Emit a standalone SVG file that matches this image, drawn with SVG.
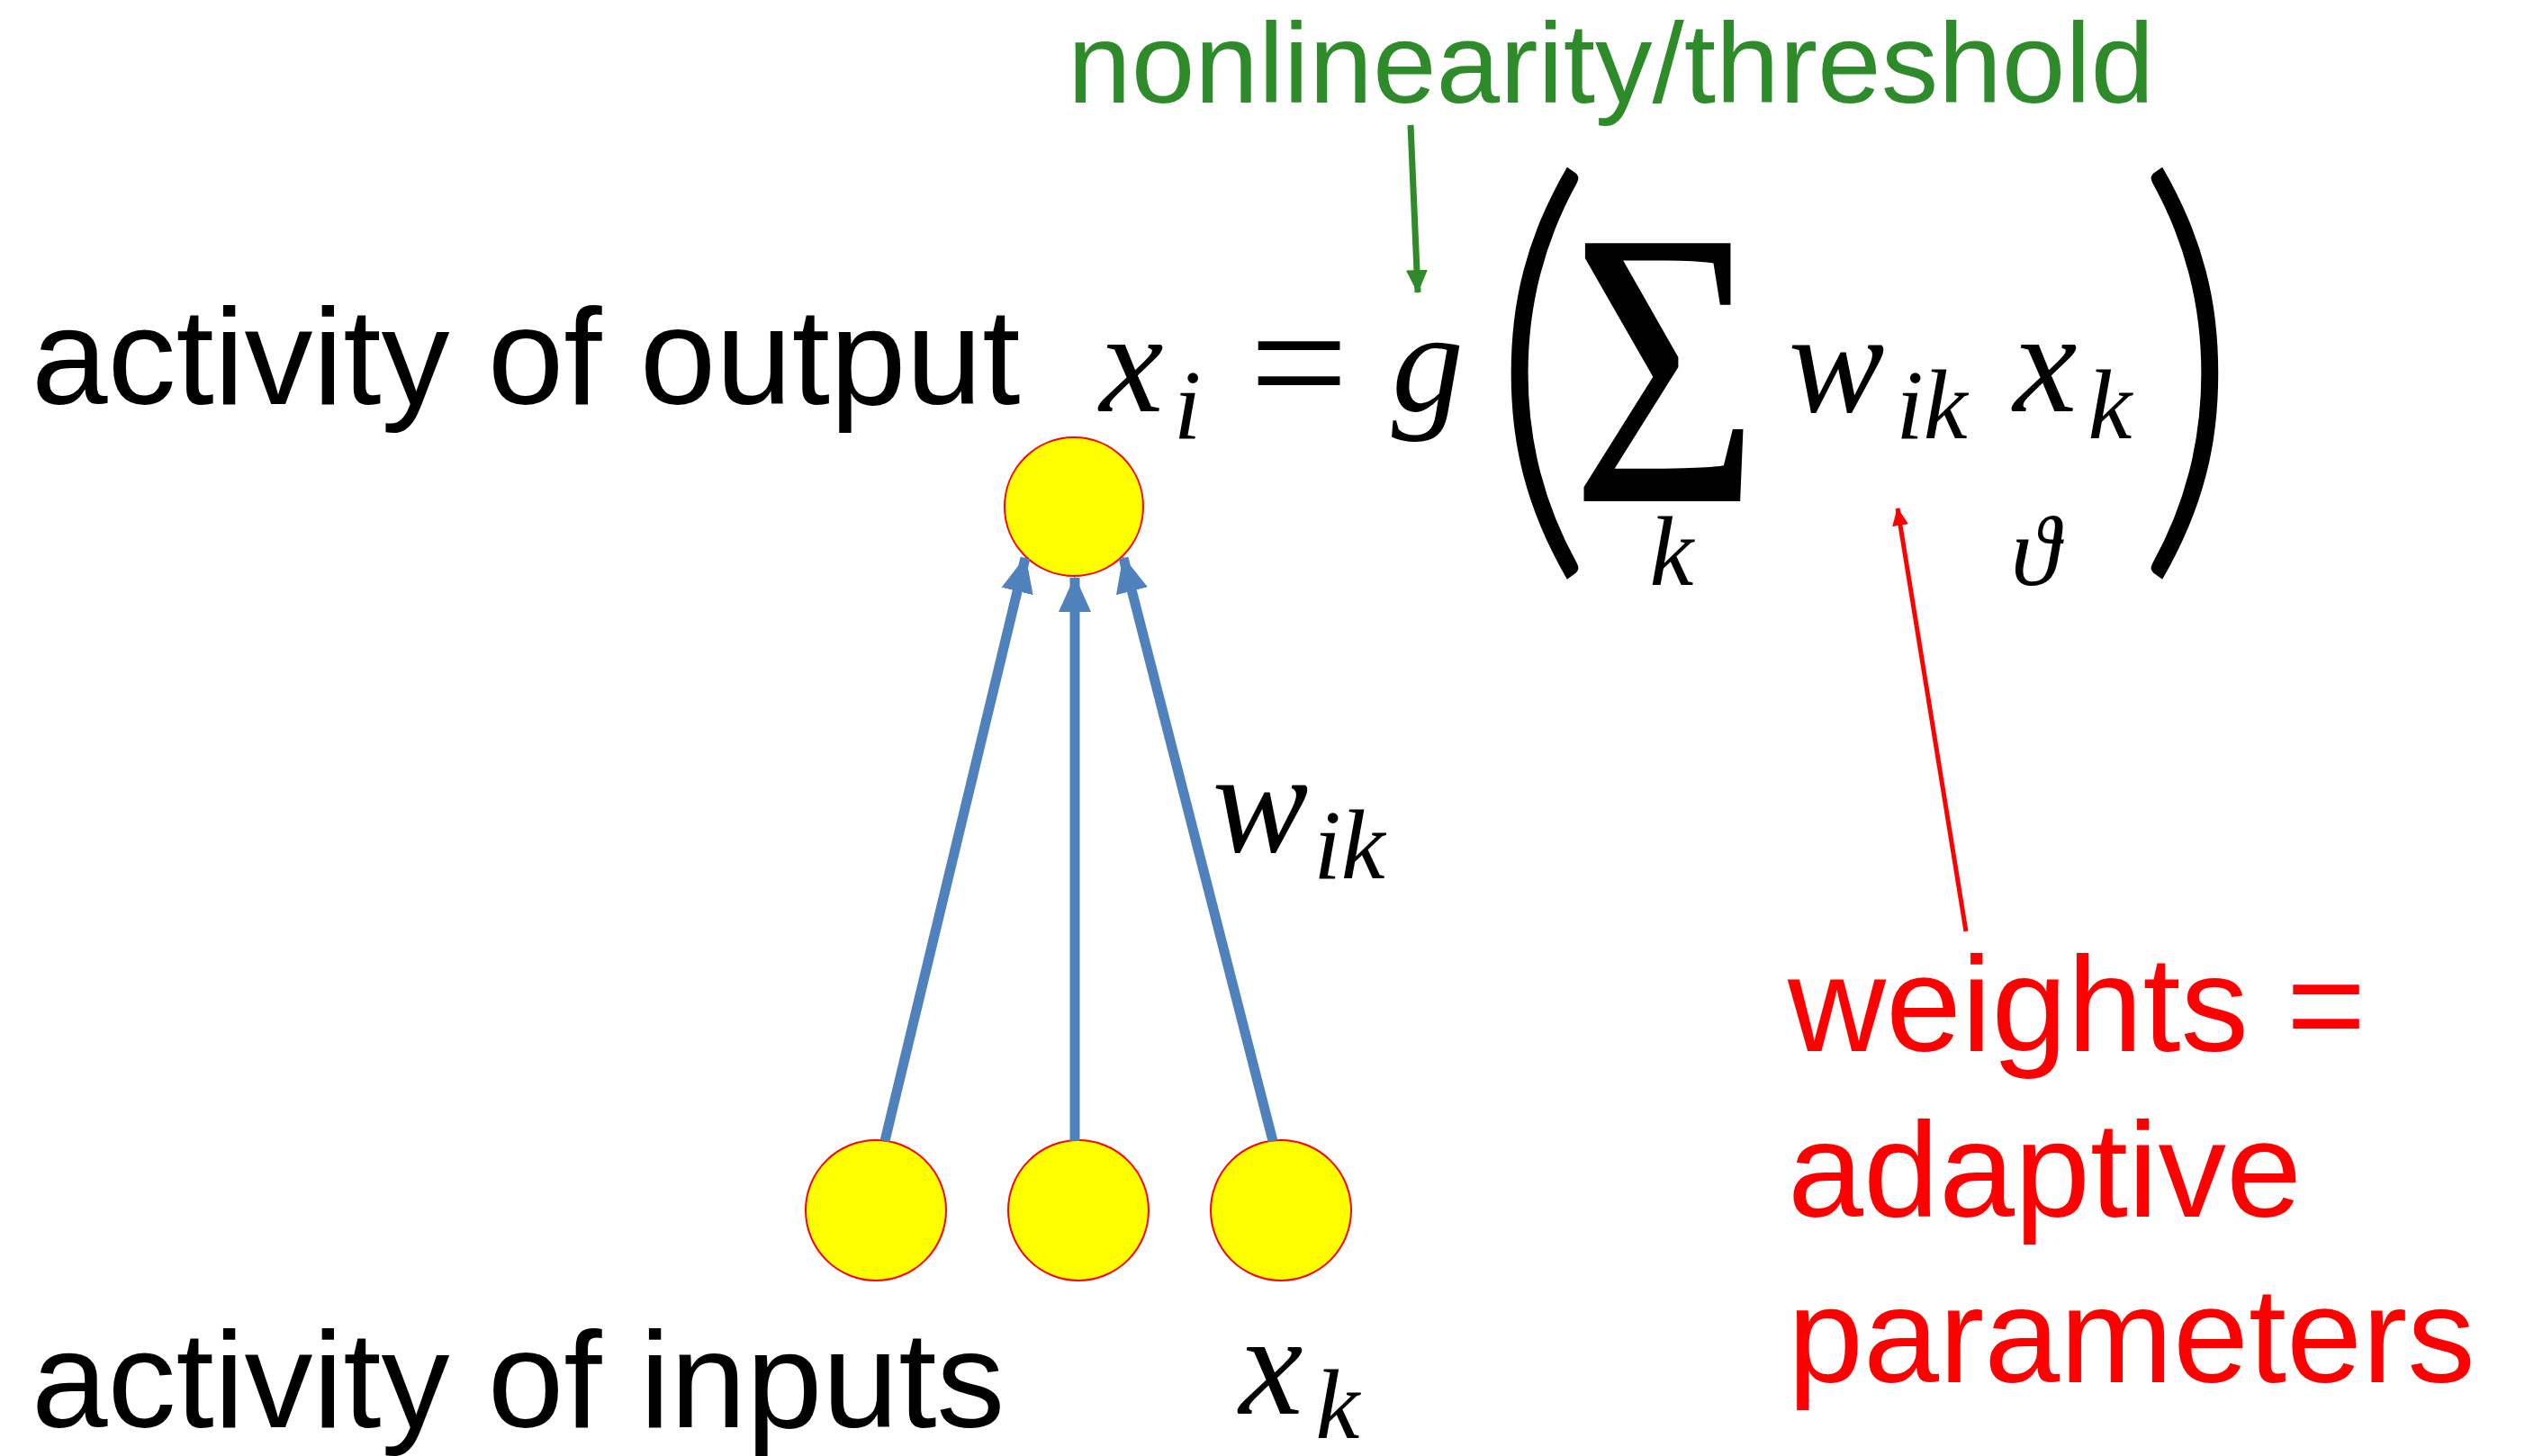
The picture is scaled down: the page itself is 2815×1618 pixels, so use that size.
<svg xmlns="http://www.w3.org/2000/svg" width="2815" height="1618" viewBox="0 0 2815 1618">
<style>
.lbl{font-family:"Liberation Sans",Arial,sans-serif;font-size:152px;fill:#000}
.red{font-family:"Liberation Sans",Arial,sans-serif;font-size:151px;fill:#FF0000}
.grn{font-family:"Liberation Sans",Arial,sans-serif;font-size:127px;fill:#2E8B2A}
.m{font-family:"Liberation Serif","DejaVu Serif",serif;font-style:italic;font-size:160px;fill:#000;text-anchor:middle}
.s{font-family:"Liberation Serif","DejaVu Serif",serif;font-style:italic;font-size:110px;fill:#000;text-anchor:middle}
.u{font-family:"Liberation Serif","DejaVu Serif",serif;fill:#000;text-anchor:middle}
.p{font-family:Lato,"Liberation Serif",serif;font-weight:300;fill:#000;text-anchor:middle}
.node{fill:#FFFF00;stroke:#FF0000;stroke-width:2}
.edge{stroke:#4F81BD;stroke-width:11;fill:none}
</style>
<defs>
<marker id="ab" markerUnits="userSpaceOnUse" markerWidth="40" markerHeight="40" viewBox="0 0 40 40" refX="38" refY="20" orient="auto">
<path d="M0,2 L40,20 L0,38 Z" fill="#4F81BD"/>
</marker>
<marker id="ag" markerUnits="userSpaceOnUse" markerWidth="26" markerHeight="26" viewBox="0 0 26 26" refX="25" refY="13" orient="auto">
<path d="M0,1 L26,13 L0,25 Z" fill="#2E8B2A"/>
</marker>
<marker id="ar" markerUnits="userSpaceOnUse" markerWidth="20" markerHeight="20" viewBox="0 0 20 20" refX="19" refY="10" orient="auto">
<path d="M0,1 L20,10 L0,19 Z" fill="#FF0000"/>
</marker>
</defs>

<text class="lbl" x="35" y="449">activity of output</text>
<text class="lbl" x="35" y="1586">activity of inputs</text>
<text class="grn" x="1186" y="114">nonlinearity/threshold</text>
<text class="red" x="1986" y="1168">weights =</text>
<text class="red" x="1986" y="1352">adaptive</text>
<text class="red" x="1986" y="1536">parameters</text>

<g id="formula">
<text class="m" x="1257" y="457">x</text>
<text class="s" x="1319" y="487">i</text>
<text class="u" x="1443" y="468" font-size="195">=</text>
<text class="m" x="1586" y="457">g</text>
<text class="p" x="0" y="0" font-size="450" transform="translate(1712,576) scale(1.0,1.137)">(</text>
<text class="u" x="0" y="0" font-size="438" transform="translate(1850,557) scale(0.82,1)">Σ</text>
<text class="s" x="1857" y="650">k</text>
<text class="m" x="2040" y="457">w</text>
<text class="s" x="2146" y="487">ik</text>
<text class="m" x="2272" y="457">x</text>
<text class="s" x="2344" y="487">k</text>
<text class="s" x="2261" y="650" font-size="82">ϑ</text>
<text class="p" x="0" y="0" font-size="450" transform="translate(2431,576) scale(1.0,1.137)">)</text>
</g>

<g id="n_out"><circle class="node" cx="1193" cy="563" r="77"/></g>
<g id="n_in1"><circle class="node" cx="973" cy="1345" r="78"/></g>
<g id="n_in2"><circle class="node" cx="1198" cy="1345" r="78"/></g>
<g id="n_in3"><circle class="node" cx="1423" cy="1345" r="78"/></g>

<g id="connectors">
<line class="edge" x1="983" y1="1268" x2="1139" y2="620" marker-end="url(#ab)"/>
<line class="edge" x1="1194" y1="1268" x2="1194" y2="642" marker-end="url(#ab)"/>
<line class="edge" x1="1414" y1="1268" x2="1248" y2="620" marker-end="url(#ab)"/>
<line x1="1567" y1="139" x2="1575" y2="325" stroke="#2E8B2A" stroke-width="7" marker-end="url(#ag)"/>
<line x1="2184" y1="1035" x2="2108" y2="565" stroke="#FF0000" stroke-width="5" marker-end="url(#ar)"/>
</g>

<g id="labels">
<text class="m" x="1400" y="946" font-size="175">w</text>
<text class="s" x="1499" y="976" font-size="120">ik</text>
<text class="m" x="1412" y="1571">x</text>
<text class="s" x="1486" y="1598">k</text>
</g>
</svg>
